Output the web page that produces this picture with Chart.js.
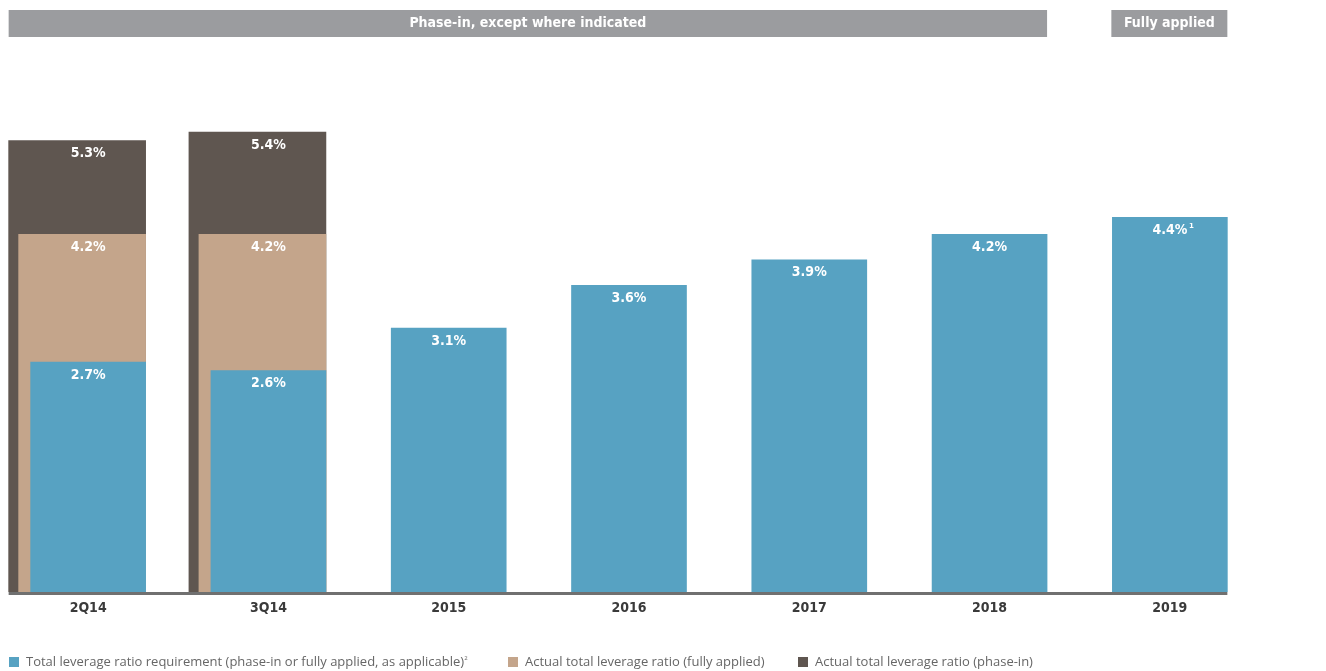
<!DOCTYPE html>
<html>
<head>
<meta charset="utf-8">
<script src="https://cdn.jsdelivr.net/npm/chart.js@4.4.1/dist/chart.umd.min.js"></script>
<style>
  body{margin:0;background:#fff;overflow:hidden;}
  #wrap{position:absolute;left:-2px;top:0;width:1328px;height:671px;}
  #legend{position:absolute;top:653px;left:0;font-family:"Open Sans",sans-serif;font-size:13px;color:#666;}
  #legend span.item{position:absolute;white-space:nowrap;line-height:16px;height:16px;}
  #legend i{display:inline-block;width:10px;height:10px;margin-right:7px;vertical-align:-1px;}
  #legend sup{font-size:6px;line-height:0;vertical-align:6px;}
</style>
</head>
<body>
<div id="wrap"><canvas id="myChart"></canvas></div>
<div id="legend"></div>
<script>
// categories
var labels=["2Q14","3Q14","2015","2016","2017","2018","2019"];
// total leverage ratio requirement
var reqValues=[2.7,2.6,3.1,3.6,3.9,4.2,4.4];
// actual total leverage ratio (fully applied)
var fullValues=[4.2,4.2,null,null,null,null,null];
// actual total leverage ratio (phase-in)
var phaseValues=[5.3,5.4,null,null,null,null,null];
var valueNotes=["","","","","","","1"];

var seriesNames=["Total leverage ratio requirement (phase-in or fully applied, as applicable)","Actual total leverage ratio (fully applied)","Actual total leverage ratio (phase-in)"];
var colors=["#57a2c2","#c4a58b","#5f5650"];

var blueW=115, tanW=127, darkW=137;

// shift the wider bars left so all right edges line up
const rightAlign={
  id:"rightAlign",
  afterDatasetsUpdate(chart){
    chart.data.datasets.forEach(function(ds,i){
      if(!ds.shift) return;
      chart.getDatasetMeta(i).data.forEach(function(el){ el.x-=ds.shift; });
    });
  }
};

// values inside the bars, axis line, header bands
const extras={
  id:"extras",
  afterDatasetsDraw(chart){
    var ctx=chart.ctx, xs=chart.scales.x;
    ctx.save();
    ctx.fillStyle="#fff";
    ctx.textAlign="center";
    ctx.textBaseline="middle";
    chart.data.datasets.forEach(function(ds,i){
      chart.getDatasetMeta(i).data.forEach(function(el,j){
        var v=ds.data[j];
        if(v==null) return;
        var cx=xs.getPixelForValue(j);
        var txt=v.toFixed(1)+"%";
        ctx.font="bold 14px 'DejaVu Sans Condensed', sans-serif";
        ctx.fillText(txt,cx,el.y+13);
        if(i==0 && valueNotes[j]){
          var w=ctx.measureText(txt).width;
          ctx.font="bold 7px 'DejaVu Sans', sans-serif";
          ctx.fillText(valueNotes[j],cx+w/2+4,el.y+9);
        }
      });
    });
    // axis line
    var dark=chart.getDatasetMeta(2).data[0];
    var blue=chart.getDatasetMeta(0).data;
    var left=dark.x-dark.width/2;
    var last=blue[blue.length-1];
    var right=last.x+last.width/2;
    ctx.fillStyle="#707070";
    ctx.fillRect(left,chart.chartArea.bottom,right-left,3);
    // header bands
    var r18=blue[5].x+blue[5].width/2;
    var l19=last.x-last.width/2-1;
    ctx.fillStyle="#9b9c9f";
    ctx.fillRect(left,10,r18-left,27);
    ctx.fillRect(l19,10,right-l19,27);
    ctx.fillStyle="#fff";
    ctx.font="bold 14px 'DejaVu Sans Condensed', sans-serif";
    ctx.fillText("Phase-in, except where indicated",(left+r18)/2,23.5);
    ctx.fillText("Fully applied",(l19+right)/2,23.5);
    ctx.restore();
  }
};

new Chart("myChart",{
  type:"bar",
  data:{
    labels:labels,
    datasets:[
      {label:seriesNames[0],data:reqValues,backgroundColor:colors[0],barThickness:blueW,grouped:false,order:0,shift:0},
      {label:seriesNames[1],data:fullValues,backgroundColor:colors[1],barThickness:tanW,grouped:false,order:1,shift:(tanW-blueW)/2},
      {label:seriesNames[2],data:phaseValues,backgroundColor:colors[2],barThickness:darkW,grouped:false,order:2,shift:(darkW-blueW)/2}
    ]
  },
  options:{
    responsive:true,
    maintainAspectRatio:false,
    animation:false,
    layout:{padding:{left:0,right:66,top:81,bottom:49}},
    plugins:{legend:{display:false},tooltip:{enabled:false}},
    scales:{
      x:{
        grid:{display:false,drawTicks:false},
        border:{display:false},
        ticks:{color:"#3a3a3a",padding:8,font:{family:"'DejaVu Sans Condensed', sans-serif",size:14,weight:"bold"}},
        afterFit:function(s){s.height=30;}
      },
      y:{display:false,min:0,max:6}
    }
  },
  plugins:[rightAlign,extras]
});

// legend
var legendPos=[9,508,798];
var lg=document.getElementById("legend");
seriesNames.forEach(function(name,i){
  var s=document.createElement("span");
  s.className="item";
  s.style.left=legendPos[i]+"px";
  s.innerHTML='<i style="background:'+colors[i]+'"></i>'+name+(i==0?'<sup>2</sup>':'');
  lg.appendChild(s);
});
</script>
</body>
</html>
